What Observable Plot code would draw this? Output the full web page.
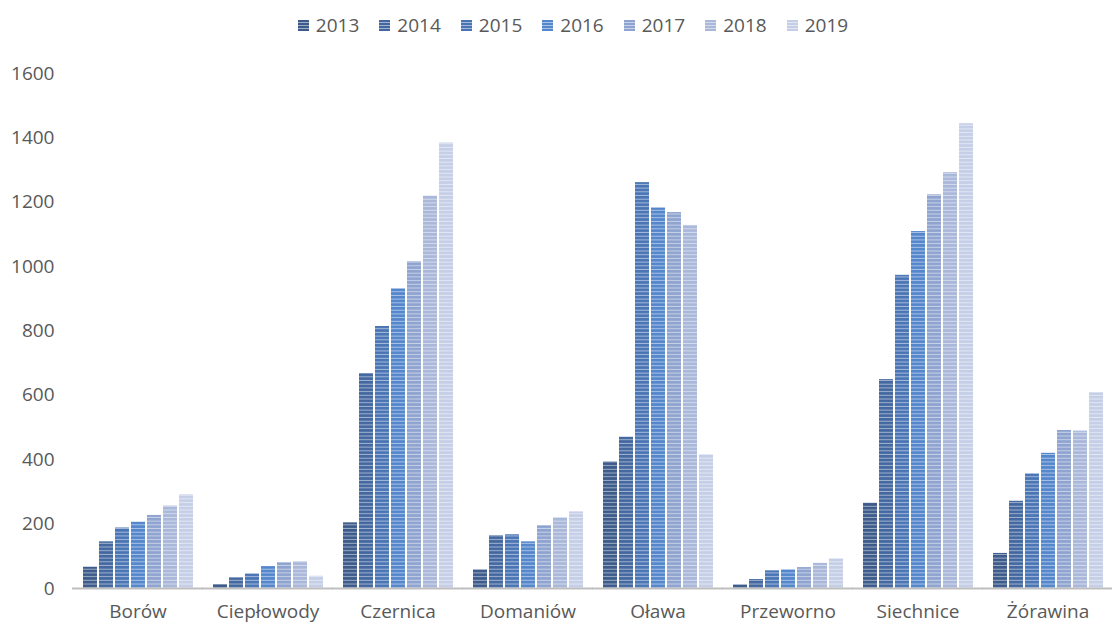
<!DOCTYPE html>
<html>
<head>
<meta charset="utf-8">
<script src="https://cdn.jsdelivr.net/npm/d3@7"></script>
<script src="https://cdn.jsdelivr.net/npm/@observablehq/plot@0.6"></script>
<style>
  html, body { margin: 0; padding: 0; background: #fff; }
  body { width: 1112px; height: 628px; overflow: hidden; font-family: "Open Sans", sans-serif; }
  #legend { height: 48px; display: flex; justify-content: center; align-items: center; gap: 20px; padding-left: 34px; padding-top: 2px; box-sizing: border-box; color: #595959; font-size: 19px; }
  #legend .item { display: flex; align-items: center; gap: 7px; }
  #legend .sw { width: 11px; height: 11px; }
</style>
</head>
<body>
<div id="legend"></div>
<div id="chart"></div>
<script>
const towns = ["Borów", "Ciepłowody", "Czernica", "Domaniów", "Oława", "Przeworno", "Siechnice", "Żórawina"];
const years = ["2013", "2014", "2015", "2016", "2017", "2018", "2019"];
const v2013 = [66, 12, 204, 58, 393, 11, 265, 109];
const v2014 = [145, 33, 668, 164, 470, 28, 649, 271];
const v2015 = [188, 45, 814, 167, 1261, 55, 973, 356];
const v2016 = [206, 68, 931, 145, 1182, 58, 1109, 420];
const v2017 = [227, 80, 1015, 195, 1168, 65, 1223, 491];
const v2018 = [256, 83, 1219, 220, 1128, 78, 1292, 489];
const v2019 = [291, 38, 1384, 238, 416, 92, 1444, 608];
const colors = ["#3d5b8a", "#43679f", "#4a75b5", "#5486cc", "#8ea3cf", "#a9b7d9", "#c4cee6"];

const series = [v2013, v2014, v2015, v2016, v2017, v2018, v2019];
const data = [];
towns.forEach((t, i) => years.forEach((y, j) => data.push({town: t, year: y, value: series[j][i]})));

const chart = Plot.plot({
  width: 1112,
  height: 580,
  marginLeft: 72,
  marginRight: 0,
  marginTop: 25,
  marginBottom: 40,
  style: {fontFamily: "Open Sans, sans-serif", fontSize: "19px", color: "#595959", background: "#fff", overflow: "visible"},
  fx: {domain: towns, paddingInner: 0.15, paddingOuter: 0.075, label: null, tickSize: 0, tickPadding: 16, axis: "bottom"},
  x: {domain: years, paddingInner: 0.15, paddingOuter: 0, axis: null},
  y: {domain: [0, 1600], ticks: d3.range(0, 1601, 200), tickSize: 0, tickPadding: 28, label: null, tickFormat: d => String(d)},
  color: {domain: years, range: years.map((y, i) => `url(#stripe${i})`)},
  marks: [
    Plot.barY(data, {fx: "town", x: "year", y: "value", fill: "year"}),
    Plot.ruleY([0], {stroke: "#bfbfbf", strokeWidth: 2, insetLeft: -10, insetRight: -10})
  ]
});

// stripe patterns
const ns = "http://www.w3.org/2000/svg";
const defs = document.createElementNS(ns, "defs");
colors.forEach((c, i) => {
  const p = document.createElementNS(ns, "pattern");
  p.setAttribute("id", `stripe${i}`);
  p.setAttribute("patternUnits", "userSpaceOnUse");
  p.setAttribute("width", 8);
  p.setAttribute("height", 3.7);
  const r = document.createElementNS(ns, "rect");
  r.setAttribute("width", 8); r.setAttribute("height", 3.7); r.setAttribute("fill", c);
  const l = document.createElementNS(ns, "rect");
  l.setAttribute("y", 2.7); l.setAttribute("width", 8); l.setAttribute("height", 1); l.setAttribute("fill", "#fff"); l.setAttribute("fill-opacity", 0.5);
  p.appendChild(r); p.appendChild(l);
  defs.appendChild(p);
});
chart.insertBefore(defs, chart.firstChild);
document.getElementById("chart").appendChild(chart);

const legend = document.getElementById("legend");
years.forEach((y, i) => {
  const it = document.createElement("div");
  it.className = "item";
  const sw = document.createElement("div");
  sw.className = "sw";
  sw.style.background = `repeating-linear-gradient(to bottom, ${colors[i]} 0px, ${colors[i]} 2px, rgba(255,255,255,0.5) 2px, rgba(255,255,255,0.5) 3px)`;
  sw.style.backgroundColor = colors[i];
  const tx = document.createElement("span");
  tx.textContent = y;
  it.appendChild(sw); it.appendChild(tx);
  legend.appendChild(it);
});
</script>
</body>
</html>
